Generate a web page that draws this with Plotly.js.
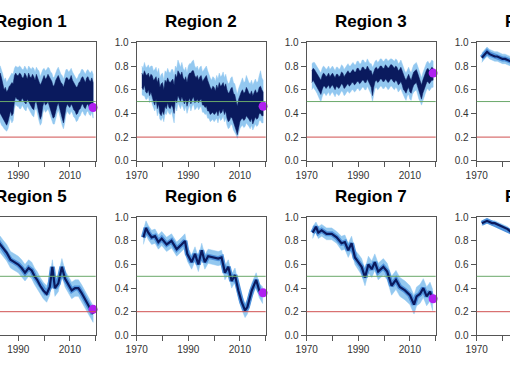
<!DOCTYPE html>
<html><head><meta charset="utf-8">
<script src="https://cdn.plot.ly/plotly-3.0.1.min.js"></script>
<style>
html,body{margin:0;padding:0;overflow:hidden;background:#fff;width:510px;height:382px;position:relative}
#chart{position:absolute;left:-80px;top:0;width:720px;height:382px}
</style>
</head><body><div id="chart"></div>
<script>
// ---------- DATA (values in percent) ----------
const regionNames = ["Region 1","Region 2","Region 3","Region 4","Region 5","Region 6","Region 7","Region 8"];
const xTickVals = [1970,1980,1990,2000,2010,2020];
const xTickText = ["1970","","1990","","2010",""];
const yTickVals = [0,0.2,0.4,0.6,0.8,1.0];
const yTickText = ["0.0","0.2","0.4","0.6","0.8","1.0"];
const endYear = 2019;
const endValues = [45,46,74,55,22,36,31,38];

// noisy panels: half-year samples 1972.0 .. 2019.0
const r1DarkHi = [66,63,64,67,62,65,66,62,63,66, 65,61,62,64,66,63,64,67,65,62, 68,72,74,70,66,60,62,58,60,63, 64,66,65,72,74,72,72,74,73,70,
  70,74,72,69,74,71,70,73,71,68, 73,70,68,64,66,70,72,69,70,73, 71,68,67,63,64,68,70,72,69,66, 65,62,66,70,70,68,69,72,68,66,
  65,62,63,66,67,70,71,68,66,70, 71,68,67,70,66];
const r1DarkLo = [44,42,41,45,40,43,44,39,41,44, 42,38,39,42,43,40,41,44,42,39, 44,40,40,37,36,33,32,30,33,36, 42,38,40,50,54,52,52,50,50,53,
  51,49,48,52,50,47,46,44,43,49, 50,47,40,35,38,46,50,47,48,50, 46,44,40,36,37,42,46,49,44,40, 36,32,38,45,48,46,45,48,46,43,
  42,39,40,43,44,47,48,45,44,47, 48,45,44,47,42];
const r1LightHi = [74,71,72,75,70,73,74,70,71,74, 73,69,70,72,74,71,72,75,73,70, 76,79,80,77,73,68,70,66,68,71, 72,74,73,78,80,79,79,80,79,77,
  77,80,78,76,80,78,77,79,78,75, 79,77,76,71,74,77,78,76,77,79, 78,75,74,70,71,75,77,79,76,73, 72,69,73,77,77,75,76,78,75,73,
  72,69,70,73,74,77,77,75,73,76, 77,75,74,76,73];
const r1LightLo = [38,36,35,39,34,37,38,33,35,38, 36,32,33,36,37,34,35,38,36,33, 38,34,33,30,29,27,26,25,27,30, 36,32,34,44,48,46,46,44,44,47,
  45,43,42,46,44,41,40,38,37,43, 44,41,34,30,32,40,44,41,42,44, 40,38,34,31,31,36,40,43,38,34, 30,27,32,39,42,40,39,42,40,37,
  36,33,34,37,38,41,42,39,38,41, 42,39,38,41,36];

const r2DarkHi = [74,72,76,73,72,74,70,73,72,68, 69,71,66,70,62,65,66,60,68,66, 70,67,66,68,69,64,73,70,76,74, 72,75,70,68,71,66,72,74,74,76,
  76,72,70,72,68,71,72,67,69,70, 72,68,64,62,60,63,62,59,64,61, 66,63,64,66,62,65,60,57,58,61, 62,57,56,50,46,52,56,58,60,57,
  58,62,60,57,56,59,55,58,60,57, 58,62,63,60,58];
const r2DarkLo = [62,60,64,58,57,60,55,58,54,50, 47,52,44,48,40,38,42,39,46,44, 49,45,44,47,45,40,52,49,55,52, 50,54,51,48,52,46,50,53,48,52,
  54,49,50,52,49,51,52,47,47,45, 46,42,42,39,40,41,39,40,42,38, 43,40,41,44,39,42,36,33,34,37, 36,32,30,26,22,28,33,35,36,34,
  35,38,37,35,33,36,31,34,37,35, 36,40,40,38,38];
const r2LightHi = [80,78,83,79,79,81,78,80,80,76, 77,79,74,78,70,73,74,68,76,74, 78,75,74,77,77,72,80,78,85,81, 79,83,78,76,79,74,80,82,82,84,
  85,80,78,80,76,79,80,75,77,78, 80,76,72,70,68,71,70,67,72,69, 74,71,72,75,70,73,68,65,66,70, 71,66,65,60,56,61,65,67,70,66,
  67,72,69,66,65,68,64,67,69,66, 67,72,76,70,68];
const r2LightLo = [56,55,55,52,52,55,49,53,48,45, 42,46,38,42,35,34,37,33,40,39, 43,40,39,42,38,32,46,42,49,46, 44,48,45,42,46,40,44,47,42,46,
  48,43,44,46,43,45,46,41,41,39, 40,36,36,33,34,35,33,34,36,32, 37,34,35,38,33,36,30,27,28,31, 30,26,24,22,19,23,27,29,30,28,
  29,32,31,29,27,30,26,28,31,29, 30,34,34,32,32];

const r3DarkHi = [76,78,77,75,74,72,70,68,72,74, 73,71,72,74,71,73,74,72,70,73, 73,71,72,75,74,71,73,75,76,74, 74,76,77,75,75,78,78,76,76,79,
  79,77,77,80,78,76,76,72,75,78, 79,77,78,80,80,78,78,81,80,78, 79,81,81,79,78,80,79,76,77,79, 76,72,70,68,71,73,70,68,72,75,
  76,77,74,70,66,64,68,71,74,77, 78,76,77,79,78];
const r3DarkLo = [66,68,67,65,63,60,58,56,60,63, 63,61,62,64,61,63,64,62,60,63, 62,61,63,65,64,61,62,64,65,63, 64,66,66,64,65,67,67,65,66,68,
  68,66,66,69,67,64,62,55,62,67, 68,66,67,69,69,67,67,69,68,66, 67,69,69,67,66,68,67,64,65,67, 64,60,59,57,60,62,58,57,61,64,
  65,66,62,58,56,52,57,60,63,66, 67,65,66,68,68];
const r3LightHi = [82,83,83,81,80,78,76,74,78,80, 79,77,78,80,77,79,80,78,76,79, 79,77,78,81,80,77,79,81,82,80, 80,82,83,81,81,84,84,82,82,85,
  85,83,83,86,84,82,82,79,81,84, 85,83,84,86,86,84,84,86,86,84, 85,86,86,85,84,86,85,82,83,85, 82,78,76,74,77,79,76,74,78,81,
  82,83,80,76,72,70,74,77,80,83, 84,82,83,85,84];
const r3LightLo = [60,62,61,59,57,55,52,50,54,57, 57,55,56,58,55,57,58,56,54,57, 56,55,57,59,58,55,56,58,59,57, 58,60,60,58,59,61,61,59,60,62,
  62,60,60,63,61,58,56,50,56,61, 62,60,61,63,63,61,61,63,62,60, 61,63,63,61,60,62,61,58,59,61, 58,55,53,51,55,56,52,51,56,58,
  59,60,56,52,50,47,51,54,57,60, 61,59,60,62,62];

// smooth panels: irregular years
const years4 = [1972,1973,1974,1975,1976,1977,1978,1979,1980,1981,1982,1983,1985,1990,1995,2000,2005,2010,2015,2019];
const mid4 = [87,90,92,90,89,88,88,87,86,86,85,84,82,78,74,70,66,62,58,55];
const hi4  = [91,94,96,94,93,92,92,91,90,90,89,88,86,82,78,74,70,66,62,59];
const lo4  = [83,86,88,86,85,84,84,83,82,82,81,80,78,74,70,66,62,58,54,51];

const years5 = [1972,1974,1976,1978,1980,1982,1983,1984,1985.5,1987,1988.5,1990,1991.3,1992.6,1994,1995.2,1996.3,1997.3,1998.5,1999.7,
  2001,2002.2,2003.2,2004.2,2005.5,2006.9,2008.1,2009.4,2010.7,2012,2013.3,2014.5,2015.8,2017,2018,2019];
const mid5 = [93,91,89,86,83,80,77,74,70,64,62,60,57,53,57,55,50,47,42,38,35,41,58,40,44,58,48,43,38,40,40,36,31,26,22,18];
const hi5  = [99,97,95,92,89,86,84,81,77,71,69,67,64,60,64,62,57,54,49,45,42,48,64,47,51,65,55,50,45,47,47,43,38,33,29,25];
const lo5  = [87,85,83,80,77,74,70,67,63,57,55,53,50,46,50,48,43,40,35,31,28,34,51,33,37,51,41,36,31,33,33,29,24,19,15,11];

const years6 = [1972.6,1973.6,1974.5,1975.8,1977.1,1978.4,1979.7,1981.6,1983.5,1985.5,1987.4,1988.7,1989.6,1991.3,1992.6,1993.9,1995.2,
  1996.4,1997.7,1999.7,2001.6,2002.9,2004.2,2005.5,2006.8,2008.1,2009.4,2010.7,2012,2012.9,2014.6,2016.3,2017.5,2018.8];
const mid6 = [83,91,87,83,84,79,82,77,80,73,77,80,69,62,69,60,72,62,67,66,65,66,53,58,46,51,38,28,21,24,38,47,38,34];
const hi6  = [89,97,93,89,90,85,88,83,86,79,83,86,75,68,75,66,78,68,73,72,71,72,59,64,52,57,44,34,27,30,44,53,44,41];
const lo6  = [77,85,81,77,78,73,76,71,74,67,71,74,63,56,63,54,66,56,61,60,59,60,47,52,40,45,32,22,15,18,32,41,32,27];

const years7 = [1972.3,1973.6,1974.5,1975.8,1977.7,1979.7,1981.6,1983.5,1984.8,1986.1,1987.4,1988.7,1990,1991.3,1992.6,1993.9,1995.2,
  1996.4,1997.7,1999.7,2001.2,2002.9,2004.6,2006.1,2008.1,2010,2011.6,2012.6,2013.9,2015.2,2016.5,2017.8,2018.8];
const mid7 = [87,92,87,89,86,86,83,78,79,72,78,66,62,58,49,60,56,62,54,58,54,42,47,41,38,34,26,33,35,40,33,37,30];
const hi7  = [92,96,92,94,91,91,88,84,85,78,84,72,69,65,56,67,63,69,61,65,61,50,55,49,46,42,34,41,43,48,41,45,39];
const lo7  = [82,88,82,84,81,81,78,72,73,66,72,60,55,51,42,53,49,55,47,51,47,34,39,33,30,26,18,25,27,32,25,29,21];

const years8 = [1972,1973,1974,1975,1976,1977,1978,1979,1980,1981,1982,1983,1985,1990,1995,2000,2005,2010,2015,2019];
const mid8 = [95,96,97,96,95,95,94,93,92,91,90,88,85,78,70,62,55,48,42,38];
const hi8  = [97,98,99,98,97,97,96,95,94,93,92,90,88,81,73,65,58,51,45,41];
const lo8  = [93,94,95,94,93,93,92,91,90,89,88,86,82,75,67,59,52,45,39,35];

// ---------- BUILD ----------
const halfYears = [];
for (let i = 0; i < r1DarkHi.length; i++) halfYears.push(1972 + i * 0.5);
const pc = a => a.map(v => v / 100);

const panels = [
  {type:"noisy", x:halfYears, dHi:r1DarkHi, dLo:r1DarkLo, lHi:r1LightHi, lLo:r1LightLo},
  {type:"noisy", x:halfYears, dHi:r2DarkHi, dLo:r2DarkLo, lHi:r2LightHi, lLo:r2LightLo},
  {type:"noisy", x:halfYears, dHi:r3DarkHi, dLo:r3DarkLo, lHi:r3LightHi, lLo:r3LightLo},
  {type:"smooth", x:years4, mid:mid4, hi:hi4, lo:lo4},
  {type:"smooth", x:years5, mid:mid5, hi:hi5, lo:lo5},
  {type:"smooth", x:years6, mid:mid6, hi:hi6, lo:lo6},
  {type:"smooth", x:years7, mid:mid7, hi:hi7, lo:lo7},
  {type:"smooth", x:years8, mid:mid8, hi:hi8, lo:lo8}
];

const LIGHT = "#93c8f0", MED = "#4f92dc", NAVY = "#0a1a5e", PURPLE = "#b020f0";
const GREEN = "#6aa86a", RED = "#d05050", AXC = "#555555";
const FONT = "Liberation Sans, Arial, sans-serif";

const FULLW = 720, OFFX = 80, H = 382;
function colDomain(c){ const s = -33.3 + 170 * c; return [(s + OFFX) / FULLW, (s + 129 + OFFX) / FULLW]; }
const rowPx = [[42.3, 160.8], [217.3, 335.3]];
function rowDomain(r){ return [1 - rowPx[r][1] / H, 1 - rowPx[r][0] / H]; }

function poly(x, lo, hi){
  return { x: x.concat(x.slice().reverse()), y: pc(hi).concat(pc(lo).slice().reverse()) };
}

const traces = [];
const layout = {
  width: FULLW, height: H, margin: {l:0, r:0, t:0, b:0},
  paper_bgcolor: "#fff", plot_bgcolor: "#fff", showlegend: false,
  font: {family: FONT, color: "#333"},
  shapes: [], annotations: []
};

panels.forEach((p, i) => {
  const n = i + 1;
  const xa = "x" + (n === 1 ? "" : n), ya = "y" + (n === 1 ? "" : n);
  const col = i % 4, row = Math.floor(i / 4);
  const xd = colDomain(col), yd = rowDomain(row);
  const offLeft = (col === 0);   // labels left of the window in the reference
  const offRight = (col === 3);  // labels right of the window in the reference
  const xtt = xTickText.map((t, k) => (offLeft && k === 0) || (offRight && k > 0) ? "" : t);

  layout["xaxis" + (n === 1 ? "" : n)] = {
    domain: xd, anchor: ya, range: [1970, 2020], tickmode: "array",
    tickvals: xTickVals, ticktext: xtt,
    ticks: "outside", ticklen: 5, tickwidth: 1, tickcolor: AXC,
    showline: true, linecolor: AXC, linewidth: 1, mirror: true, showgrid: false, zeroline: false,
    tickfont: {family: FONT, size: 10, color: "#333"}, fixedrange: true
  };
  layout["yaxis" + (n === 1 ? "" : n)] = {
    domain: yd, anchor: xa, range: [0, 1], tickmode: "array",
    tickvals: yTickVals, ticktext: yTickText, showticklabels: !offLeft,
    ticks: "outside", ticklen: 5, tickwidth: 1, tickcolor: AXC,
    showline: true, linecolor: AXC, linewidth: 1, mirror: true, showgrid: false, zeroline: false,
    tickfont: {family: FONT, size: 10, color: "#333"}, fixedrange: true
  };

  if (p.type === "noisy") {
    const L = poly(p.x, p.lLo, p.lHi);
    traces.push({type:"scatter", mode:"lines", x:L.x, y:L.y, fill:"toself", fillcolor:LIGHT,
      line:{width:0.5, color:LIGHT}, xaxis:xa, yaxis:ya, hoverinfo:"skip"});
    const D = poly(p.x, p.dLo, p.dHi);
    traces.push({type:"scatter", mode:"lines", x:D.x, y:D.y, fill:"toself", fillcolor:NAVY,
      line:{width:0.5, color:NAVY}, xaxis:xa, yaxis:ya, hoverinfo:"skip"});
  } else {
    const L = poly(p.x, p.lo, p.hi);
    traces.push({type:"scatter", mode:"lines", x:L.x, y:L.y, fill:"toself", fillcolor:LIGHT,
      line:{width:0.5, color:LIGHT}, xaxis:xa, yaxis:ya, hoverinfo:"skip"});
    traces.push({type:"scatter", mode:"lines", x:p.x, y:pc(p.mid), line:{width:5, color:MED},
      xaxis:xa, yaxis:ya, hoverinfo:"skip"});
    traces.push({type:"scatter", mode:"lines", x:p.x, y:pc(p.mid), line:{width:2.2, color:NAVY},
      xaxis:xa, yaxis:ya, hoverinfo:"skip"});
  }
  traces.push({type:"scatter", mode:"markers", x:[endYear], y:[endValues[i] / 100],
    marker:{size:9, color:PURPLE, symbol:"circle"}, cliponaxis:false, xaxis:xa, yaxis:ya, hoverinfo:"skip"});

  [[0.5, GREEN], [0.2, RED]].forEach(([v, c]) => {
    layout.shapes.push({type:"line", xref: xa + " domain", x0:0, x1:1, yref: ya, y0:v, y1:v,
      line:{color:c, width:1}, layer:"above"});
  });

  layout.annotations.push({
    text: "<b>" + regionNames[i] + "</b>", xref:"paper", yref:"paper",
    x: (xd[0] + xd[1]) / 2, y: yd[1] + 21 / H, xanchor:"center", yanchor:"middle",
    showarrow:false, font:{family: FONT, size:17, color:"#000"}
  });
});

Plotly.newPlot("chart", traces, layout, {displayModeBar:false, staticPlot:true});
</script></body></html>
